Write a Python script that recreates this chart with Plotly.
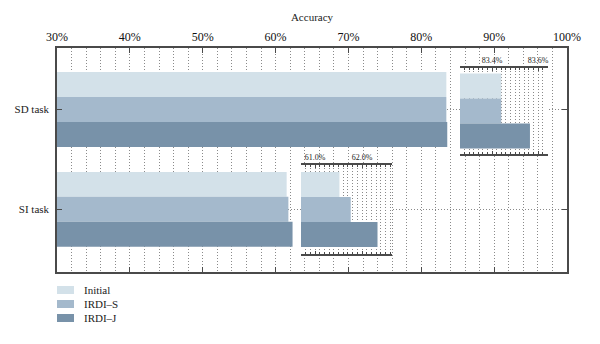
import plotly.graph_objects as go

# ---- data ----
tasks = ["SD task", "SI task"]
series = ["Initial", "IRDI\u2013S", "IRDI\u2013J"]
colors = ["#d3e1e9", "#a4b9cc", "#7892a9"]
values = {
    "Initial": [83.44, 61.52],
    "IRDI\u2013S": [83.44, 61.76],
    "IRDI\u2013J": [83.565, 62.33],
}
x_ticks_main = [30, 40, 50, 60, 70, 80, 90, 100]
sd_zoom_ticks = [83.4, 83.6]
si_zoom_ticks = [61.0, 62.0]

W, H = 600, 344
L, R, T, B = 57, 567, 48, 272
PW, PH = R - L, B - T
FONT = "Liberation Serif"


def px_x(p):
    return (p - L) / PW


def px_y(p):
    return (B - p) / PH


fig = go.Figure()

# main bars
for s, c in zip(series, colors):
    fig.add_trace(go.Bar(y=tasks, x=values[s], orientation="h", name=s,
                         marker=dict(color=c, line=dict(width=0)),
                         showlegend=False, xaxis="x", yaxis="y"))

# inset bars (zoomed views)
for s, c in zip(series, colors):
    fig.add_trace(go.Bar(y=[tasks[0]], x=[values[s][0]], orientation="h", name=s,
                         marker=dict(color=c, line=dict(width=0)),
                         showlegend=False, xaxis="x2", yaxis="y2"))
    fig.add_trace(go.Bar(y=[tasks[1]], x=[values[s][1]], orientation="h", name=s,
                         marker=dict(color=c, line=dict(width=0)),
                         showlegend=False, xaxis="x3", yaxis="y3"))

unit = 99.8  # px per category
grid_c = "#8a8a8a"
line_c = "#4a4a4a"
DOT = "1px,2px"

# inset geometry (px)
sd_box = (460, 548, 68, 154)
si_box = (301, 392, 165, 254)


def yspan(box):
    h = box[3] - box[2]
    half = h / unit / 2
    return [half, -half]


fig.update_layout(
    width=W, height=H,
    margin=dict(l=L, r=W - R, t=T, b=H - B, pad=0),
    paper_bgcolor="white", plot_bgcolor="white",
    barmode="group", bargap=0.25, bargroupgap=0,
    font=dict(family=FONT, size=11, color="#222"),
    xaxis=dict(domain=[0, 1], range=[30, 100], side="top",
               tickvals=x_ticks_main, ticktext=["%d%%" % v for v in x_ticks_main],
               ticks="inside", ticklen=5, tickcolor=line_c,
               showline=True, linecolor=line_c, linewidth=1.5, mirror="ticks",
               showgrid=True, gridcolor=grid_c, griddash=DOT, gridwidth=1,
               minor=dict(dtick=2, showgrid=True, gridcolor=grid_c, griddash=DOT, gridwidth=1),
               zeroline=False, ticklabelstandoff=0,
               tickfont=dict(size=12, family=FONT, color="#111"),
               title=dict(text="Accuracy", standoff=7, font=dict(size=11, family=FONT, color="#222"))),
    yaxis=dict(domain=[0, 1], range=[1.628, -0.616], type="category",
               ticks="inside", ticklen=5, tickcolor=line_c,
               showline=True, linecolor=line_c, linewidth=1.5, mirror="ticks",
               showgrid=True, gridcolor=grid_c, griddash=DOT, gridwidth=1,
               zeroline=False, ticklabelstandoff=4,
               tickfont=dict(size=11, family=FONT, color="#222")),
    xaxis2=dict(domain=[px_x(sd_box[0]), px_x(sd_box[1])], anchor="y2",
                range=[83.4 - 32 / 230, 83.4 + 88 / 230 - 32 / 230],
                side="top", tickvals=sd_zoom_ticks, ticktext=["%.1f%%" % v for v in sd_zoom_ticks],
                ticks="inside", ticklen=3, tickcolor=line_c,
                showline=True, linecolor=line_c, linewidth=1.5, mirror="ticks",
                showgrid=True, gridcolor=grid_c, griddash=DOT, gridwidth=1,
                minor=dict(dtick=0.02, tick0=83.4, showgrid=True, gridcolor=grid_c, griddash=DOT,
                           gridwidth=1, ticks="inside", ticklen=2, tickcolor=line_c),
                zeroline=False, ticklabelstandoff=0,
                tickfont=dict(size=8, family=FONT, color="#222")),
    yaxis2=dict(domain=[px_y(sd_box[3]), px_y(sd_box[2])], anchor="x2",
                type="category", range=yspan(sd_box), showticklabels=False,
                showline=False, showgrid=False, zeroline=False, ticks=""),
    xaxis3=dict(domain=[px_x(si_box[0]), px_x(si_box[1])], anchor="y3",
                range=[61.0 - 14 / 47, 61.0 + 77 / 47],
                side="top", tickvals=si_zoom_ticks, ticktext=["%.1f%%" % v for v in si_zoom_ticks],
                ticks="inside", ticklen=3, tickcolor=line_c,
                showline=True, linecolor=line_c, linewidth=1.5, mirror="ticks",
                showgrid=True, gridcolor=grid_c, griddash=DOT, gridwidth=1,
                minor=dict(dtick=0.1, tick0=61.0, showgrid=True, gridcolor=grid_c, griddash=DOT,
                           gridwidth=1, ticks="inside", ticklen=2, tickcolor=line_c),
                zeroline=False, ticklabelstandoff=0,
                tickfont=dict(size=8, family=FONT, color="#222")),
    yaxis3=dict(domain=[px_y(si_box[3]), px_y(si_box[2])], anchor="x3",
                type="category", range=yspan(si_box), showticklabels=False,
                showline=False, showgrid=False, zeroline=False, ticks=""),
    showlegend=False,
)

# white backgrounds for insets
for ax in ["2", "3"]:
    fig.add_shape(type="rect", xref="x%s domain" % ax, yref="y%s domain" % ax,
                  x0=0, x1=1, y0=0, y1=1, fillcolor="white", line=dict(width=0), layer="below")

# manual legend
leg_y = [290, 304, 318]
for s, c, yy in zip(series, colors, leg_y):
    fig.add_shape(type="rect", xref="paper", yref="paper",
                  x0=px_x(57), x1=px_x(74), y0=px_y(yy + 4), y1=px_y(yy - 4),
                  fillcolor=c, line=dict(width=0))
    fig.add_annotation(text=s, xref="paper", yref="paper", x=px_x(82), y=px_y(yy),
                       xanchor="left", yanchor="middle", showarrow=False,
                       font=dict(size=11, family=FONT, color="#222"))

fig.write_html("out.html")
